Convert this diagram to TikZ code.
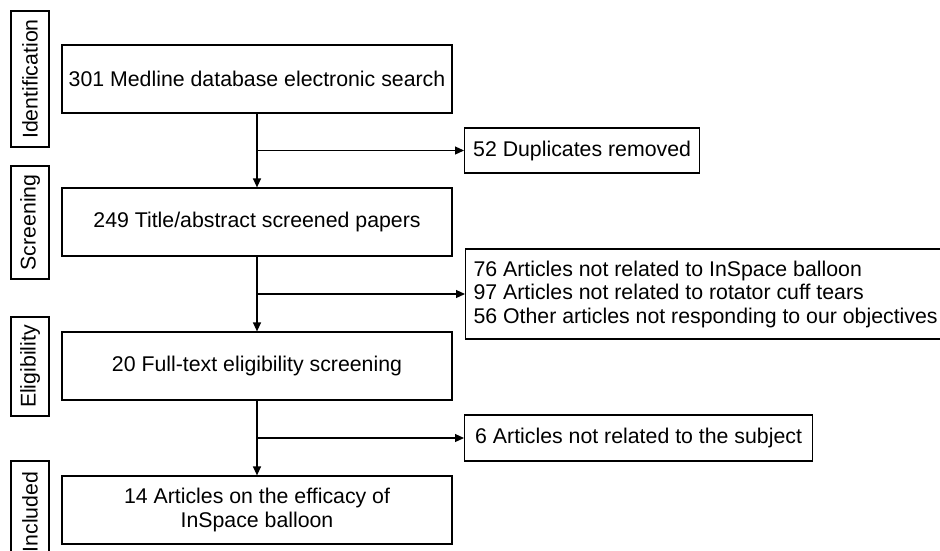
\documentclass[tikz,border=0pt]{standalone}
\usepackage{fontspec}
\setmainfont{Liberation Sans}
\usetikzlibrary{arrows.meta}

\begin{document}
\begin{tikzpicture}[x=1pt,y=-1pt,line width=1.2pt,
  stage/.style={draw,rotate=90,inner sep=0pt,font=\fontsize{21.3}{23}\selectfont},
  step box/.style={draw,inner sep=0pt,minimum width=390pt,minimum height=68pt,align=center,font=\fontsize{21.3}{23.5}\selectfont},
  out box/.style={draw,inner sep=0pt,anchor=west,align=left,font=\fontsize{21.3}{23.5}\selectfont},
  flow/.style={-{Triangle[length=9pt,width=8pt]}}]
\useasboundingbox (0,0) rectangle (940,550);
% stages at the left
\node [stage,minimum width=136pt,minimum height=38pt] (ident) at (30,79) {Identification};
\node [stage,minimum width=113pt,minimum height=38pt] (screen) at (30,222.5) {Screening};
\node [stage,minimum width=99pt,minimum height=38pt] (elig) at (30,366.5) {Eligibility};
\node [stage,minimum width=102pt,minimum height=38pt] (incl) at (30,512) {Included};
% main column
\node [step box] (search) at (257,79) {301 Medline database electronic search};
\node [step box] (title) at (257,222) {249 Title/abstract screened papers};
\node [step box] (full) at (257,366) {20 Full-text eligibility screening};
\node [step box] (final) at (257,510) {14 Articles on the efficacy of\\InSpace balloon};
% excluded
\node [out box,minimum width=235pt,minimum height=45pt] (dup) at (464,150.5) {52 Duplicates removed};
\node [out box,minimum width=480pt,minimum height=90pt] (notrel) at (465,294)
  {76 Articles not related to InSpace balloon\\
   97 Articles not related to rotator cuff tears\\
   56 Other articles not responding to our objectives};
\node [out box,minimum width=348pt,minimum height=46pt] (subj) at (464,438) {6 Articles not related to the subject};
% connectors
\draw [flow] (search) -- (title);
\draw [flow] (title) -- (full);
\draw [flow] (full) -- (final);
\coordinate (b1) at (search.south |- dup.west);
\coordinate (b2) at (title.south |- notrel.west);
\coordinate (b3) at (full.south |- subj.west);
\draw [flow] (b1) -- (dup);
\draw [flow] (b2) -- (notrel);
\draw [flow] (b3) -- (subj);
\end{tikzpicture}
\end{document}
